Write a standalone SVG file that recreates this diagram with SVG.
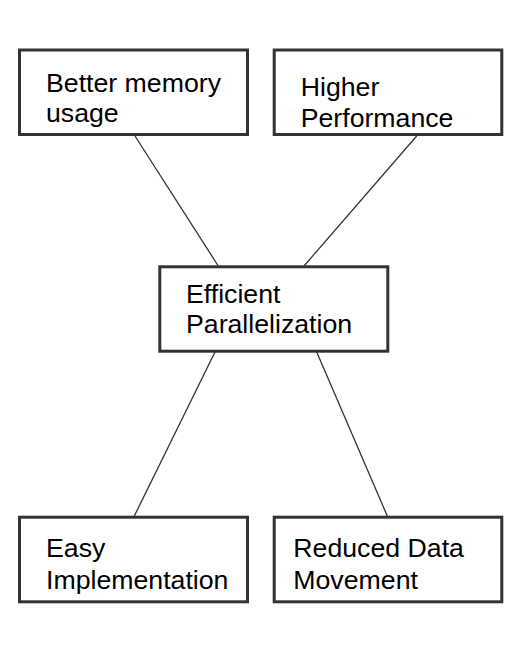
<svg xmlns="http://www.w3.org/2000/svg" width="510" height="669" viewBox="0 0 510 669">
<style>
.box{fill:#fff;stroke:#333;stroke-width:3}
.lbl{font-family:"Liberation Sans",Arial,sans-serif;font-size:26.7px;fill:#000}
.edge{stroke:#333;stroke-width:1.3;fill:none}
</style>
<rect width="510" height="669" fill="#fff"/>
<g id="connectors">
<line class="edge" x1="135" y1="136" x2="218.3" y2="266"/>
<line class="edge" x1="416.7" y1="136" x2="304" y2="266"/>
<line class="edge" x1="215" y1="352" x2="134.3" y2="516"/>
<line class="edge" x1="316.7" y1="352" x2="387.3" y2="516"/>
</g>
<g id="better-memory">
<rect class="box" x="19.5" y="50" width="228" height="84.5"/>
<text class="lbl" x="46" y="91.7">Better memory</text>
<text class="lbl" x="46" y="121.7">usage</text>
</g>
<g id="higher-performance">
<rect class="box" x="274.2" y="50" width="227.6" height="84.5"/>
<text class="lbl" x="300.7" y="95.7">Higher</text>
<text class="lbl" x="300.7" y="126.7">Performance</text>
</g>
<g id="efficient-parallelization">
<rect class="box" x="159.8" y="266.8" width="228" height="84.4"/>
<text class="lbl" x="186" y="302.7">Efficient</text>
<text class="lbl" x="186" y="333.3">Parallelization</text>
</g>
<g id="easy-implementation">
<rect class="box" x="19.5" y="517.2" width="228" height="84.6"/>
<text class="lbl" x="46" y="556.7">Easy</text>
<text class="lbl" x="46" y="589.3">Implementation</text>
</g>
<g id="reduced-data-movement">
<rect class="box" x="274.2" y="517.2" width="227.6" height="84.6"/>
<text class="lbl" x="293.3" y="556.7">Reduced Data</text>
<text class="lbl" x="293.3" y="589.3">Movement</text>
</g>
</svg>
